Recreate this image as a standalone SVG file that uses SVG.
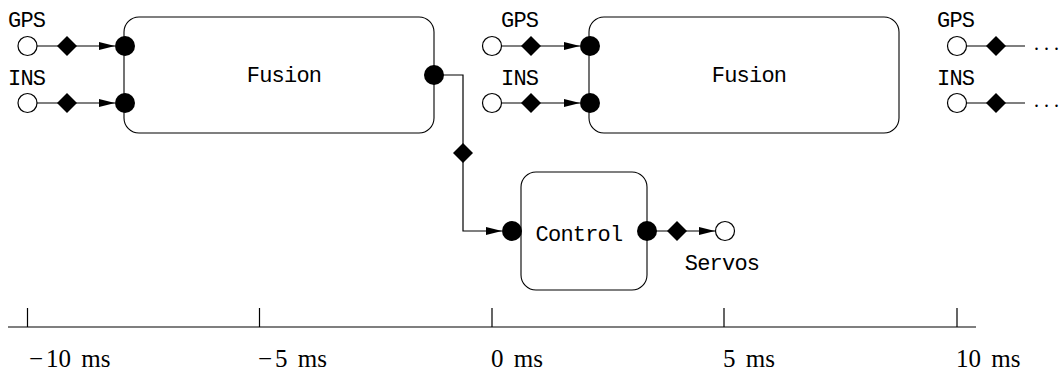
<svg xmlns="http://www.w3.org/2000/svg" xmlns:xlink="http://www.w3.org/1999/xlink" width="1063" height="373" viewBox="0 0 1063 373">
  <style>
    .box { fill: #fff; stroke: #000; stroke-width: 1.1; }
    .port { fill: #000; }
    .src { fill: #fff; stroke: #000; stroke-width: 1.2; }
    .wire { fill: none; stroke: #000; stroke-width: 1.2; }
    .tt { font-family: "Liberation Mono", "DejaVu Sans Mono", monospace; font-size: 22px; letter-spacing: -0.8px; fill: #000; }
    .rm { font-family: "Liberation Serif", "DejaVu Serif", serif; font-size: 25px; fill: #000; word-spacing: 4px; }
    .dots { font-family: "Liberation Serif", "DejaVu Serif", serif; font-size: 20px; fill: #000; }
  </style>
  <defs>
    <marker id="arrow" markerUnits="userSpaceOnUse" markerWidth="17" markerHeight="9" refX="16" refY="4" orient="auto">
      <path d="M0,0 L16,4 L0,8 Z" fill="#000"/>
    </marker>
    <polygon id="diamond" points="0,-10 10,0 0,10 -10,0" fill="#000"/>
  </defs>

  <!-- signal wires with sample-and-hold diamonds -->
  <g id="connectors">
    <!-- inputs to first fusion -->
    <line class="wire" x1="37" y1="46" x2="115" y2="46" marker-end="url(#arrow)"/>
    <line class="wire" x1="37" y1="103" x2="115" y2="103" marker-end="url(#arrow)"/>
    <use xlink:href="#diamond" x="67" y="46"/>
    <use xlink:href="#diamond" x="67" y="103"/>
    <!-- inputs to second fusion -->
    <line class="wire" x1="502" y1="46" x2="580" y2="46" marker-end="url(#arrow)"/>
    <line class="wire" x1="502" y1="103" x2="580" y2="103" marker-end="url(#arrow)"/>
    <use xlink:href="#diamond" x="531" y="46"/>
    <use xlink:href="#diamond" x="531" y="103"/>
    <!-- next period inputs -->
    <line class="wire" x1="967" y1="46" x2="1025" y2="46"/>
    <line class="wire" x1="967" y1="103" x2="1025" y2="103"/>
    <use xlink:href="#diamond" x="996" y="46"/>
    <use xlink:href="#diamond" x="996" y="103"/>
    <!-- fusion estimate to control -->
    <path class="wire" d="M434,75 H463 V231 H502" marker-end="url(#arrow)"/>
    <use xlink:href="#diamond" x="463" y="153"/>
    <!-- control to servos -->
    <line class="wire" x1="647" y1="231" x2="715" y2="231" marker-end="url(#arrow)"/>
    <use xlink:href="#diamond" x="677" y="231"/>
  </g>

  <!-- sensor sources, first period -->
  <g id="gps1">
    <text class="tt" x="8" y="27">GPS</text>
    <circle class="src" cx="27.5" cy="46" r="9.5"/>
  </g>
  <g id="ins1">
    <text class="tt" x="8" y="85">INS</text>
    <circle class="src" cx="27.5" cy="103" r="9.5"/>
  </g>

  <g id="fusion1">
    <rect class="box" x="124" y="17" width="310" height="116" rx="15"/>
    <text class="tt" x="284" y="82" text-anchor="middle">Fusion</text>
    <circle class="port" cx="125" cy="46" r="10"/>
    <circle class="port" cx="125" cy="103" r="10"/>
    <circle class="port" cx="434" cy="75" r="10"/>
  </g>

  <!-- sensor sources, second period -->
  <g id="gps2">
    <text class="tt" x="501" y="27">GPS</text>
    <circle class="src" cx="492" cy="46" r="9.5"/>
  </g>
  <g id="ins2">
    <text class="tt" x="501" y="85">INS</text>
    <circle class="src" cx="492" cy="103" r="9.5"/>
  </g>

  <g id="fusion2">
    <rect class="box" x="589" y="17" width="310" height="116" rx="15"/>
    <text class="tt" x="749" y="82" text-anchor="middle">Fusion</text>
    <circle class="port" cx="590" cy="46" r="10"/>
    <circle class="port" cx="590" cy="103" r="10"/>
  </g>

  <!-- sensor sources, third period -->
  <g id="gps3">
    <text class="tt" x="937" y="27">GPS</text>
    <circle class="src" cx="957" cy="46" r="9.5"/>
    <text class="dots" x="1034" y="50">. . .</text>
  </g>
  <g id="ins3">
    <text class="tt" x="937" y="85">INS</text>
    <circle class="src" cx="957" cy="103" r="9.5"/>
    <text class="dots" x="1034" y="107">. . .</text>
  </g>

  <g id="control">
    <rect class="box" x="521" y="172" width="126" height="118" rx="15"/>
    <text class="tt" x="579" y="241" text-anchor="middle">Control</text>
    <circle class="port" cx="512" cy="231" r="10"/>
    <circle class="port" cx="647" cy="231" r="10"/>
  </g>

  <g id="servos">
    <circle class="src" cx="725" cy="231" r="9.5"/>
    <text class="tt" x="722" y="270" text-anchor="middle">Servos</text>
  </g>

  <!-- time axis -->
  <g id="axis">
    <path class="wire" d="M8,327 H976 M27.5,308 V327 M259.5,308 V327 M492,308 V327 M724,308 V327 M957,308 V327"/>
    <text class="rm" x="29" y="367">−<tspan dx="3">10 ms</tspan></text>
    <text class="rm" x="258" y="367">−<tspan dx="3">5 ms</tspan></text>
    <text class="rm" x="491" y="367">0 ms</text>
    <text class="rm" x="723" y="367">5 ms</text>
    <text class="rm" x="956" y="367">10 ms</text>
  </g>
</svg>
